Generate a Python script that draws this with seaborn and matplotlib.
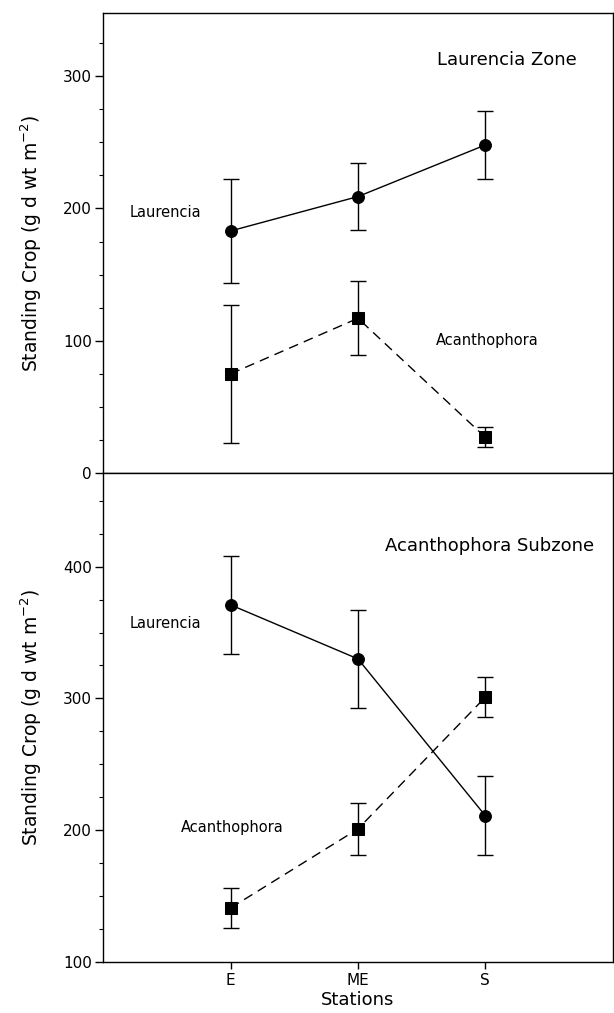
import numpy as np
import matplotlib
matplotlib.use("Agg")
import matplotlib.pyplot as plt
from matplotlib.ticker import MultipleLocator
import seaborn as sns

# Stations along the shore
stations = ["E", "ME", "S"]

# Laurencia Zone (top panel): mean standing crop and error
zone_laurencia = [183, 209, 248]
zone_laurencia_err = [39, 25, 26]
zone_acantho = [75, 117, 27]
zone_acantho_err = [52, 28, 7.5]

# Acanthophora Subzone (bottom panel)
sub_laurencia = [371, 330, 211]
sub_laurencia_err = [37, 37, 30]
sub_acantho = [141, 201, 301]
sub_acantho_err = [15, 20, 15]

sns.set_style("ticks")
plt.rcParams["font.family"] = ["DejaVu Sans"]
plt.rcParams["axes.linewidth"] = 1.0
plt.rcParams["text.color"] = "black"
plt.rcParams["axes.labelcolor"] = "black"
plt.rcParams["axes.edgecolor"] = "black"
plt.rcParams["xtick.color"] = "black"
plt.rcParams["ytick.color"] = "black"

fig = plt.figure(figsize=(6.14, 10.13), dpi=100)
ax1 = fig.add_axes([0.168, 0.533, 0.830, 0.4545])
ax2 = fig.add_axes([0.168, 0.0503, 0.830, 0.4827])

xpos = np.arange(len(stations))


def draw_series(ax, y, err, marker, ls, ms):
    sns.lineplot(x=xpos, y=y, ax=ax, color="black", marker=marker, markersize=ms,
                 markeredgecolor="black", linestyle=ls, linewidth=1.0,
                 dashes=False, legend=False)
    ax.errorbar(xpos, y, yerr=err, fmt="none", ecolor="black", elinewidth=1.0,
                capsize=5.5, capthick=1.0)


for ax in (ax1, ax2):
    ax.set_xlim(-1, 3)
    ax.set_ylabel("Standing Crop (g d wt m$^{-2}$)", fontsize=13.5, labelpad=14)
    ax.yaxis.set_major_locator(MultipleLocator(100))
    ax.yaxis.set_minor_locator(MultipleLocator(25))
    ax.tick_params(axis="y", which="major", direction="out", length=6, width=1,
                   labelsize=11, pad=2)
    ax.tick_params(axis="y", which="minor", direction="out", length=3, width=0.8)
    for s in ax.spines.values():
        s.set_visible(True)
        s.set_linewidth(1.0)
        s.set_color("black")

# Top panel
draw_series(ax1, zone_laurencia, zone_laurencia_err, "o", "-", 8.5)
draw_series(ax1, zone_acantho, zone_acantho_err, "s", (0, (7, 4.5)), 8)
ax1.set_ylim(0, 348)
ax1.set_xticks([])
ax1.text(1.62, 312, "Laurencia Zone", fontsize=13, va="center")
ax1.text(-0.79, 197, "Laurencia", fontsize=10.5, va="center")
ax1.text(1.61, 100, "Acanthophora", fontsize=10.5, va="center")

# Bottom panel
draw_series(ax2, sub_laurencia, sub_laurencia_err, "o", "-", 8.5)
draw_series(ax2, sub_acantho, sub_acantho_err, "s", (0, (7, 4.5)), 8)
ax2.set_ylim(100, 471)
ax2.set_xticks(xpos)
ax2.set_xticklabels(stations)
ax2.tick_params(axis="x", direction="out", length=5, width=1, labelsize=11, pad=3)
ax2.set_xlabel("Stations", fontsize=13, labelpad=2)
ax2.text(1.21, 416, "Acanthophora Subzone", fontsize=13, va="center")
ax2.text(-0.79, 357, "Laurencia", fontsize=10.5, va="center")
ax2.text(-0.39, 202, "Acanthophora", fontsize=10.5, va="center")

fig.savefig("out.png", dpi=100)
